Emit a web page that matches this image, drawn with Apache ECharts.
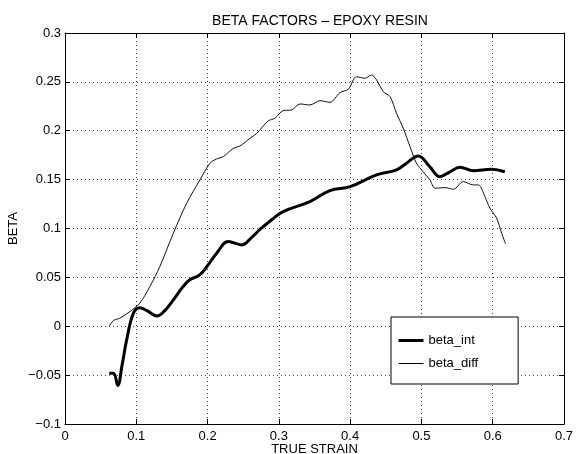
<!DOCTYPE html>
<html>
<head>
<meta charset="utf-8">
<script src="https://cdn.jsdelivr.net/npm/echarts@6/dist/echarts.min.js"></script>
<style>
  html, body { margin: 0; padding: 0; background: #fff; }
  #chart { width: 580px; height: 454px; }
</style>
</head>
<body>
<div id="chart"></div>
<script>
// Beta factors for an epoxy resin versus true strain
const titleText = 'BETA FACTORS \u2013 EPOXY RESIN';
const xName = 'TRUE STRAIN';
const yName = 'BETA';

// beta from the integral form
const intStrain = [0.062, 0.068, 0.074, 0.080, 0.0865, 0.096, 0.105, 0.115, 0.129, 0.140,
  0.152, 0.165, 0.175, 0.189, 0.200, 0.213, 0.229, 0.248, 0.262, 0.2735,
  0.290, 0.306, 0.3436, 0.3717, 0.400, 0.437, 0.465, 0.479, 0.4955, 0.512,
  0.526, 0.540, 0.554, 0.5727, 0.598, 0.617];
const intBeta = [-0.048, -0.048, -0.0606, -0.040, -0.014, 0.0134, 0.019, 0.016, 0.0106, 0.016,
  0.027, 0.040, 0.0475, 0.0525, 0.062, 0.075, 0.0866, 0.0832, 0.091, 0.099,
  0.109, 0.1173, 0.1275, 0.1388, 0.1428, 0.1548, 0.160, 0.1668, 0.1742, 0.163,
  0.153, 0.158, 0.1627, 0.1592, 0.1606, 0.158];

// beta from the differential form
const diffStrain = [0.062, 0.068, 0.077, 0.091, 0.105, 0.119, 0.133, 0.152, 0.1707, 0.1893,
  0.2034, 0.2127, 0.222, 0.236, 0.2455, 0.2595, 0.269, 0.285, 0.2945, 0.306,
  0.318, 0.3296, 0.3436, 0.3576, 0.3717, 0.3857, 0.3973, 0.409, 0.4208, 0.430,
  0.437, 0.4465, 0.456, 0.465, 0.4745, 0.484, 0.493, 0.5025, 0.512, 0.519,
  0.533, 0.545, 0.5587, 0.5727, 0.58, 0.589, 0.596, 0.6055, 0.6125, 0.618];
const diffBeta = [0.000, 0.0058, 0.0083, 0.015, 0.0236, 0.0406, 0.061, 0.0952, 0.1259, 0.1497,
  0.1668, 0.1712, 0.1735, 0.182, 0.1844, 0.1923, 0.1974, 0.210, 0.2128, 0.2206,
  0.2213, 0.2274, 0.2264, 0.2308, 0.2291, 0.239, 0.2424, 0.2553, 0.2537, 0.2571,
  0.252, 0.240, 0.2349, 0.2179, 0.2026, 0.1837, 0.1668, 0.158, 0.1497, 0.1412,
  0.1418, 0.1402, 0.148, 0.1446, 0.1446, 0.1327, 0.1208, 0.1106, 0.0952, 0.0843];

const seriesNames = ['beta_int', 'beta_diff'];
const lineWidths = [3, 1];

const xMin = 0, xMax = 0.7, xStep = 0.1;
const yMin = -0.1, yMax = 0.3, yStep = 0.05;

const zip = (xs, ys) => xs.map((x, i) => [x, ys[i]]);
const fmt = v => {
  const s = String(parseFloat(v.toFixed(2)));
  return s.replace('-', '\u2212');
};

const font = 'Liberation Sans, Arial, Helvetica, sans-serif';
const gridLine = { show: true, lineStyle: { color: '#444', type: [1, 3], width: 1 } };
const boxLine = { show: true, onZero: false, lineStyle: { color: '#000', width: 1 } };
const tickIn = { show: true, inside: true, length: 5, lineStyle: { color: '#000' } };
const hiddenMarker = { color: 'rgba(0,0,0,0)', borderColor: 'rgba(0,0,0,0)', borderWidth: 0 };

const chart = echarts.init(document.getElementById('chart'), null, { renderer: 'canvas' });
chart.setOption({
  animation: false,
  backgroundColor: '#fff',
  title: {
    text: titleText,
    left: 315, top: 9, textAlign: 'center',
    textStyle: { fontFamily: font, fontSize: 14, fontWeight: 'normal', color: '#000' }
  },
  grid: { left: 65, right: 16, top: 33, bottom: 30, containLabel: false, outerBoundsMode: 'none' },
  legend: {
    data: seriesNames.map((n, i) => ({
      name: n,
      itemStyle: hiddenMarker,
      lineStyle: { color: '#000', width: lineWidths[i] }
    })),
    orient: 'vertical',
    left: 391, top: 317,
    padding: [17, 40, 14, 6],
    itemGap: 10,
    itemWidth: 25, itemHeight: 12,
    borderColor: '#000', borderWidth: 1,
    backgroundColor: '#fff',
    textStyle: { fontFamily: font, fontSize: 13, color: '#000' }
  },
  xAxis: [{
    type: 'value', min: xMin, max: xMax, interval: xStep,
    name: xName, nameLocation: 'middle', nameGap: 19, nameMoveOverlap: false,
    nameTextStyle: { fontFamily: font, fontSize: 13, color: '#000' },
    axisLine: boxLine, axisTick: tickIn, splitLine: gridLine,
    axisLabel: { fontFamily: font, fontSize: 13, color: '#000', margin: 6, formatter: fmt }
  }, {
    type: 'value', min: xMin, max: xMax, interval: xStep, position: 'top',
    axisLine: boxLine, axisTick: tickIn, splitLine: { show: false },
    axisLabel: { show: false }
  }],
  yAxis: [{
    type: 'value', min: yMin, max: yMax, interval: yStep,
    name: yName, nameLocation: 'middle', nameGap: 45, nameRotate: 90, nameMoveOverlap: false,
    nameTextStyle: { fontFamily: font, fontSize: 13, color: '#000' },
    axisLine: boxLine, axisTick: tickIn, splitLine: gridLine,
    axisLabel: { fontFamily: font, fontSize: 13, color: '#000', margin: 4, formatter: fmt }
  }, {
    type: 'value', min: yMin, max: yMax, interval: yStep, position: 'right',
    axisLine: boxLine, axisTick: tickIn, splitLine: { show: false },
    axisLabel: { show: false }
  }],
  series: [{
    name: seriesNames[0], type: 'line', xAxisIndex: 0, yAxisIndex: 0,
    data: zip(intStrain, intBeta), smooth: 0.4, symbol: 'none',
    lineStyle: { color: '#000', width: lineWidths[0] }, itemStyle: { color: '#000' }
  }, {
    name: seriesNames[1], type: 'line', xAxisIndex: 0, yAxisIndex: 0,
    data: zip(diffStrain, diffBeta), smooth: 0.3, symbol: 'none',
    lineStyle: { color: '#111', width: lineWidths[1] }, itemStyle: { color: '#111' }
  }]
});
</script>
</body>
</html>
